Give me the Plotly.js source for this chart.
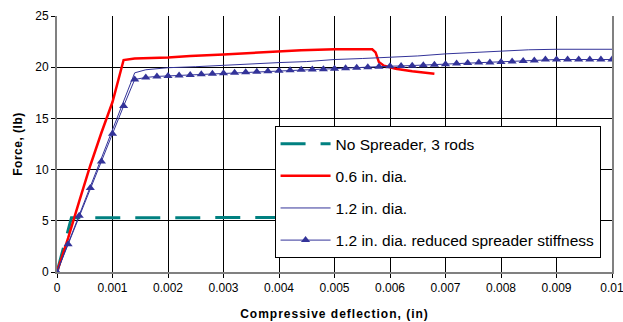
<!DOCTYPE html>
<html>
<head>
<meta charset="utf-8">
<script src="https://cdn.plot.ly/plotly-3.0.1.min.js"></script>
<style>
  html, body { margin: 0; padding: 0; background: #fff; }
  #chart { width: 623px; height: 322px; }
  .xtitle { letter-spacing: 1px; }
  .ytitle { letter-spacing: 0.5px; }
</style>
</head>
<body>
<div id="chart"></div>
<script>
// ---- Data ----
const seriesNames = [
  "No Spreader, 3 rods",
  "0.6 in. dia.",
  "1.2 in. dia.",
  "1.2 in. dia. reduced spreader stiffness"
];

const noSpreaderX = [0, 0.00026, 0.002, 0.004, 0.006, 0.008, 0.01];
const noSpreaderY = [0, 5.3, 5.3, 5.35, 5.35, 5.4, 5.4];

const dia06X = [0, 0.0002, 0.0004, 0.0006, 0.0008, 0.0009, 0.001, 0.0012, 0.0014, 0.002, 0.0024,
                0.003, 0.0035, 0.004, 0.0044, 0.005, 0.00568, 0.00574, 0.0058, 0.00589, 0.0061, 0.0064, 0.0068];
const dia06Y = [0, 3.3, 6.9, 10.4, 13.6, 15.1, 16.6, 20.7, 20.85, 20.95, 21.1,
                21.25, 21.4, 21.5, 21.65, 21.75, 21.75, 21.45, 20.5, 20.15, 19.85, 19.6, 19.35];

const dia12X = [0, 0.0014, 0.0016, 0.002, 0.0025, 0.003, 0.0035, 0.004, 0.0045, 0.005, 0.0055,
                0.006, 0.0065, 0.007, 0.0075, 0.008, 0.0085, 0.009, 0.01];
const dia12Y = [0, 19.45, 19.75, 19.95, 20.05, 20.2, 20.3, 20.45, 20.55, 20.75, 20.85,
                20.95, 21.1, 21.3, 21.45, 21.55, 21.7, 21.75, 21.75];

const reducedX = [0, 0.0002, 0.0004, 0.0006, 0.0008, 0.001, 0.0012, 0.0014, 0.0016, 0.0018,
                  0.002, 0.0022, 0.0024, 0.0026, 0.0028, 0.003, 0.0032, 0.0034, 0.0036, 0.0038,
                  0.004, 0.0042, 0.0044, 0.0046, 0.0048, 0.005, 0.0052, 0.0054, 0.0056, 0.0058,
                  0.006, 0.0062, 0.0064, 0.0066, 0.0068, 0.007, 0.0072, 0.0074, 0.0076, 0.0078,
                  0.008, 0.0082, 0.0084, 0.0086, 0.0088, 0.009, 0.0092, 0.0094, 0.0096, 0.0098, 0.01];
const reducedY = [0, 2.7, 5.5, 8.2, 10.8, 13.5, 16.2, 18.8, 19.0, 19.1,
                  19.15, 19.2, 19.25, 19.3, 19.35, 19.4, 19.45, 19.5, 19.55, 19.6,
                  19.65, 19.7, 19.75, 19.78, 19.8, 19.85, 19.9, 19.95, 20.0, 20.05,
                  20.1, 20.12, 20.15, 20.2, 20.25, 20.3, 20.35, 20.4, 20.45, 20.45,
                  20.5, 20.55, 20.6, 20.65, 20.75, 20.75, 20.75, 20.75, 20.75, 20.75, 20.75];

const xTickVals = [0, 0.001, 0.002, 0.003, 0.004, 0.005, 0.006, 0.007, 0.008, 0.009, 0.01];
const xTickText = ["0", "0.001", "0.002", "0.003", "0.004", "0.005", "0.006", "0.007", "0.008", "0.009", "0.01"];
const yTickVals = [0, 5, 10, 15, 20, 25];

// ---- Chart ----
const FONT = "Liberation Sans, Arial, sans-serif";
const BLUE = "#333399";

const traces = [
  { x: noSpreaderX, y: noSpreaderY, name: seriesNames[0], type: "scatter", mode: "lines",
    legendgroup: "a", line: { color: "#008080", width: 3, dash: "25px,15px" } },
  { x: dia06X, y: dia06Y, name: seriesNames[1], type: "scatter", mode: "lines",
    legendgroup: "b", line: { color: "#FF0000", width: 2.5 } },
  { x: dia12X, y: dia12Y, name: seriesNames[2], type: "scatter", mode: "lines",
    legendgroup: "c", line: { color: BLUE, width: 1 } },
  { x: reducedX, y: reducedY, name: seriesNames[3], type: "scatter", mode: "lines+markers",
    legendgroup: "d", line: { color: BLUE, width: 1 },
    marker: { symbol: "triangle-up", size: 8, color: BLUE } }
];

const layout = {
  width: 623, height: 322,
  margin: { l: 57, r: 11, t: 16, b: 50 },
  paper_bgcolor: "#ffffff", plot_bgcolor: "#ffffff",
  font: { family: FONT, size: 12, color: "#000" },
  showlegend: true,
  legend: {
    x: 0.392, y: 0.57, xanchor: "left", yanchor: "top",
    bgcolor: "#ffffff", bordercolor: "#000", borderwidth: 1,
    font: { family: FONT, size: 15.5, color: "#000" },
    itemwidth: 50, traceorder: "grouped", tracegroupgap: 9
  },
  xaxis: {
    range: [0, 0.01], tickvals: xTickVals, ticktext: xTickText,
    ticklabeloverflow: "allow",
    showgrid: true, gridcolor: "#000", gridwidth: 1, zeroline: false,
    showline: true, linecolor: "#808080", linewidth: 2,
    ticks: "outside", ticklen: 4, tickcolor: "#000",
    tickfont: { family: FONT, size: 12, color: "#000" },
    title: { text: "<b>Compressive deflection, (in)</b>", standoff: 15,
             font: { family: FONT, size: 12, color: "#000" } }
  },
  yaxis: {
    range: [0, 25], tickvals: yTickVals,
    showgrid: true, gridcolor: "#000", gridwidth: 1, zeroline: false,
    showline: true, linecolor: "#808080", linewidth: 2, mirror: true,
    ticks: "outside", ticklen: 4, tickcolor: "#000",
    tickfont: { family: FONT, size: 12, color: "#000" },
    title: { text: "<b>Force, (lb)</b>", standoff: 10,
             font: { family: FONT, size: 12, color: "#000" } }
  }
};

Plotly.newPlot("chart", traces, layout, { displayModeBar: false, staticPlot: true });
</script>
</body>
</html>
